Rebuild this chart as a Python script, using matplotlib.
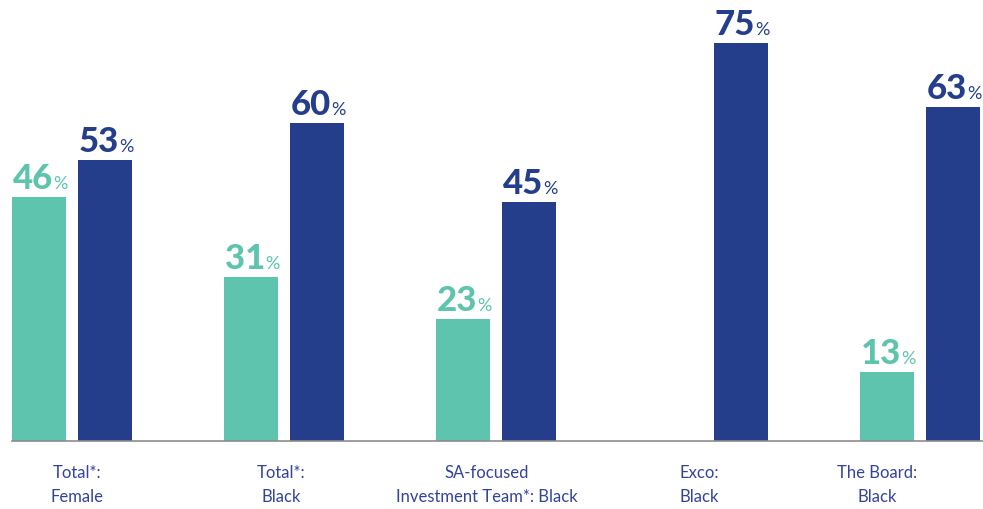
import numpy as np
import matplotlib
matplotlib.use('Agg')
import matplotlib.pyplot as plt

# data
categories = ['Total*:\nFemale', 'Total*:\nBlack', 'SA-focused\nInvestment Team*: Black',
              'Exco:\nBlack', 'The Board:\nBlack']
green_vals = [46, 31, 23, None, 13]
navy_vals = [53, 60, 45, 75, 63]

GREEN = '#5ec4ad'
NAVY = '#253e8c'
LABEL_C = '#34439a'

plt.rcParams['font.family'] = ['Lato', 'DejaVu Sans']

fig = plt.figure(figsize=(9.83, 5.09), dpi=100)
ax = fig.add_axes([12/983, 68/509, 971/983, 424/509])

x = np.arange(len(categories))
w = 54/212
off = 33/212

for i, (g, n) in enumerate(zip(green_vals, navy_vals)):
    for val, dx, col in ((g, -off, GREEN), (n, off, NAVY)):
        if val is None:
            continue
        ax.bar(x[i] + dx, val, width=w, color=col, zorder=2)
        ax.annotate(str(val), xy=(x[i] + dx, val), xytext=(14, 8),
                    textcoords='offset pixels', ha='right', va='baseline',
                    fontsize=25, fontweight='black', color=col)
        ax.annotate('%', xy=(x[i] + dx, val), xytext=(14, 8),
                    textcoords='offset pixels', ha='left', va='baseline',
                    fontsize=13, color=col)

ax.set_xlim(-60/212, (983-72)/212)
ax.set_ylim(0, 80)

for s in ('top', 'right', 'left'):
    ax.spines[s].set_visible(False)
ax.spines['bottom'].set_color('#8c8c8c')
ax.spines['bottom'].set_linewidth(1.2)
ax.set_yticks([])
ax.set_xticks([])

# category labels below the axis, nudged like the original
shift = [5, -3, -9, -9, -43]
for i, lab in enumerate(categories):
    ax.annotate(lab, xy=(x[i], 0), xytext=(shift[i], -24),
                textcoords='offset pixels', ha='center', va='top',
                fontsize=12, color=LABEL_C, linespacing=1.6)

fig.savefig('out.png', dpi=100)
